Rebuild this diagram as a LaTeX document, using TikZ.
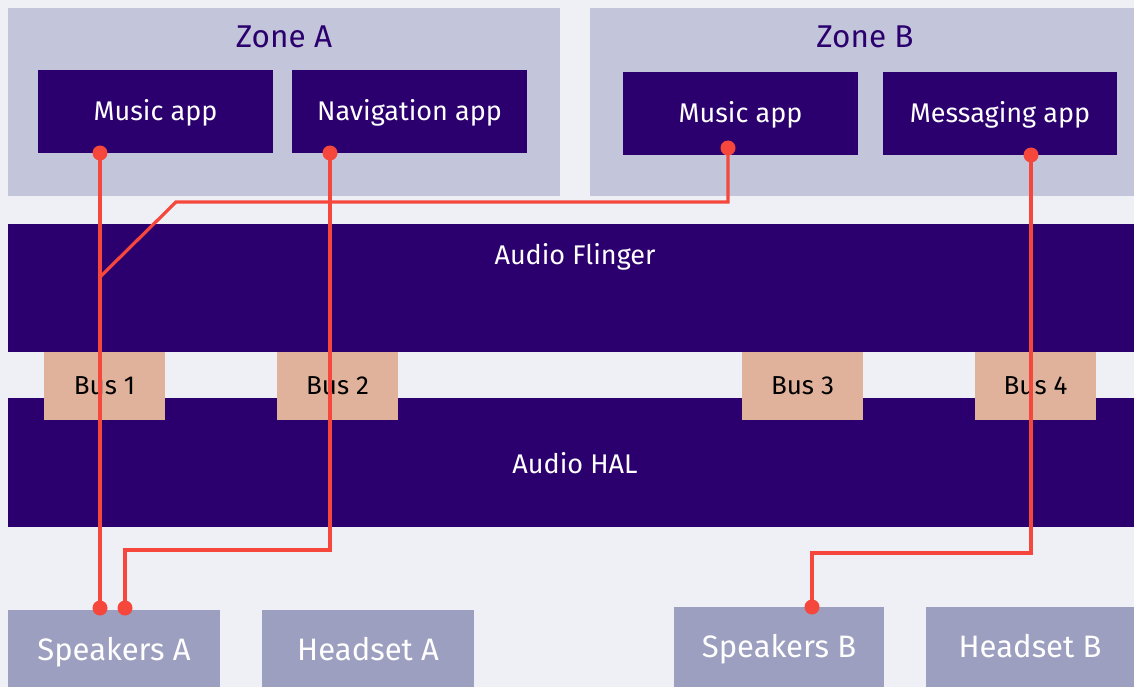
\documentclass[tikz,border=0pt]{standalone}
\usepackage{fontspec}
\setmainfont{Fira Sans}
\usetikzlibrary{calc}
\definecolor{pagebg}{HTML}{EEF0F5}
\definecolor{zonefill}{HTML}{C3C6DA}
\definecolor{indigo}{HTML}{2B006E}
\definecolor{busfill}{HTML}{E0B29B}
\definecolor{devfill}{HTML}{9C9FBF}
\definecolor{wirered}{HTML}{F6473C}
\tikzset{
  span/.style 2 args={minimum width=#1, minimum height=#2},
  blockbase/.style={rectangle, draw=none, inner sep=0pt, outer sep=0pt, anchor=north west, text depth=0pt},
  zone/.style={blockbase, fill=zonefill},
  zonetitle/.style={text=indigo, font=\fontsize{31.5}{36}\selectfont},
  app/.style={blockbase, fill=indigo, text=white, text height=18.5pt, font=\fontsize{27}{31}\selectfont},
  layer/.style={blockbase, fill=indigo},
  layertext/.style={text=white, font=\fontsize{27}{31}\selectfont},
  bus/.style={blockbase, fill=busfill, text=black, text height=17.8pt, span={121}{68}, font=\fontsize{26}{30}\selectfont},
  device/.style={blockbase, fill=devfill, text=white, text height=21.2pt, font=\fontsize{31}{35}\selectfont},
  wire/.style={draw=wirered, line width=3.2pt},
  tap/.style={fill=wirered}
}
\begin{document}
\begin{tikzpicture}[x=1pt, y=-1pt]
  % canvas
  \fill[pagebg] (0,0) rectangle (1134,687);
  \useasboundingbox (0,0) rectangle (1134,687);

  % zones with their applications
  \node[zone, span={552}{188}] (zoneA) at (8,8) {};
  \node[zonetitle] (zoneAt) at (284,37) {Zone A};
  \node[zone, span={544}{188}] (zoneB) at (590,8) {};
  \node[zonetitle] (zoneBt) at (865,37) {Zone B};

  \node[app, span={235}{83}] (musA) at (38,70) {Music app};
  \node[app, span={235}{83}] (nav)  at (292,70) {Navigation app};
  \node[app, span={235}{83}] (musB) at (623,72) {Music app};
  \node[app, span={234}{83}] (msg)  at (883,72) {Messaging app};

  % framework layers
  \node[layer, span={1126}{128}] (flinger) at (8,224) {};
  \node[layertext] (flingert) at (575,257) {Audio Flinger};
  \node[layer, span={1126}{129}] (hal) at (8,398) {};
  \node[layertext] (halt) at (575,463) {Audio HAL};

  % buses
  \node[bus] (bus1) at (44,352)  {Bus 1};
  \node[bus] (bus2) at (277,352) {Bus 2};
  \node[bus] (bus3) at (742,352) {Bus 3};
  \node[bus] (bus4) at (975,352) {Bus 4};

  % output devices
  \node[device, span={212}{80}] (spkA)  at (8,610)   {Speakers A};
  \node[device, span={212}{80}] (headA) at (262,610) {Headset A};
  \node[device, span={210}{80}] (spkB)  at (674,607) {Speakers B};
  \node[device, span={208}{80}] (headB) at (926,607) {Headset B};

  % tap points on the blocks
  \coordinate (pMusA) at ([xshift=-55.5pt]musA.south);
  \coordinate (pNav)  at ([xshift=-79.5pt]nav.south);
  \coordinate (pMusB) at ([xshift=-12.5pt, yshift=7pt]musB.south);
  \coordinate (pMsg)  at ([xshift=31pt]msg.south);
  \coordinate (pSpkA1) at ([xshift=-14pt, yshift=2pt]spkA.north);
  \coordinate (pSpkA2) at ([xshift=11pt, yshift=2pt]spkA.north);
  \coordinate (pSpkB)  at ([xshift=33pt]spkB.north);

  % bends of the routes
  \coordinate (joinA)  at ($(pMusA)+(0,124)$);
  \coordinate (bendB)  at (176,202);
  \coordinate (navRun) at (125,550);
  \coordinate (msgRun) at (812,553);

  % audio routes
  \draw[wire] (pMusA) -- (pSpkA1);
  \draw[wire] (pMusB) |- (bendB) -- (joinA);
  \draw[wire] (pNav) |- (navRun) -- (pSpkA2);
  \draw[wire] (pMsg) |- (msgRun) -- (pSpkB);

  % route end points
  \foreach \p in {pMusA, pNav, pMusB, pMsg, pSpkA1, pSpkA2, pSpkB}
    \fill[tap] (\p) circle (7.5);
\end{tikzpicture}
\end{document}
